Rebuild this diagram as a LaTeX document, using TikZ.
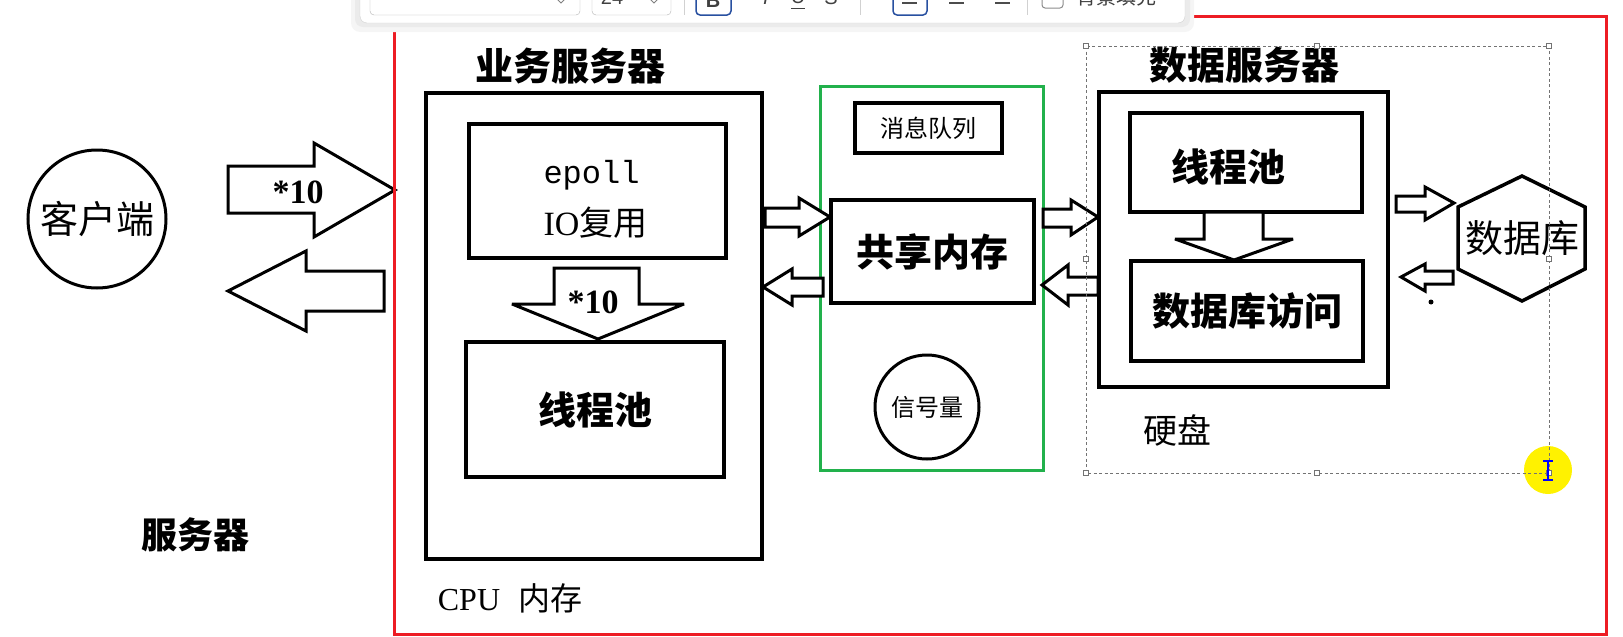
\documentclass[tikz,border=0pt]{standalone}
\usepackage{fontspec}
\setmainfont{Liberation Serif}
\setmonofont{Liberation Mono}
\setsansfont{Liberation Sans}
\newfontfamily\cjk{Noto Sans CJK SC}
\usetikzlibrary{calc}
\definecolor{FrameRed}{RGB}{237,28,36}
\definecolor{IpcGreen}{RGB}{34,177,76}
\definecolor{CursorYellow}{RGB}{255,242,0}
\definecolor{ToolBlue}{RGB}{40,80,160}
\tikzset{
    box/.style={draw,line width=3.5pt,inner sep=0pt,outer sep=0pt},
    ring/.style={draw,circle,line width=3pt,inner sep=0pt,outer sep=0pt},
    fatarrow/.style={draw,line width=3pt,fill=white,line join=miter,miter limit=4},
    titletext/.style={font=\fontsize{38}{44}\cjk\bfseries},
    boldtext/.style={font=\fontsize{38}{44}\cjk\bfseries},
    plaintext/.style={font=\fontsize{34}{40}\cjk},
    smalltext/.style={font=\fontsize{24}{28}\cjk},
    countlabel/.style={font=\fontsize{34}{40}\rmfamily\bfseries},
    toolglyph/.style={font=\fontsize{20}{24}\sffamily,anchor=base,text=black!75}
}
\begin{document}
\begin{tikzpicture}[x=1pt,y=-1pt]
		\useasboundingbox (0,0) rectangle (1623,637);
		\clip (0,0) rectangle (1623,637);
		% client side
		\node[ring,minimum size=138pt,font=\fontsize{38}{44}\cjk] (client) at (97,219) {客户端};
		\node[font=\fontsize{36}{42}\cjk\bfseries] (server) at (195,535) {服务器};
		\draw[fatarrow] (228,166) -- (314,166) -- (314,143) -- (395,190) -- (314,237) -- (314,213) -- (228,213) -- cycle;
		\node[countlabel] (request) at (298,192) {*10};
		\draw[fatarrow] (384,271) -- (306,271) -- (306,251) -- (228,291) -- (306,331) -- (306,311) -- (384,311) -- cycle;
		% outer frame
		\draw[FrameRed,line width=3pt] (394,16) rectangle (1606,634);
		% business server
		\node[titletext] (bizttl) at (570,66) {业务服务器};
		\node[box,minimum width=336pt,minimum height=466pt] (biz) at (594,326) {};
		\node[box,minimum width=257pt,minimum height=134pt] (epoll) at (597.5,191) {};
		\node[anchor=base west,font=\fontsize{32}{38}\ttfamily] (epolltxt) at (540,183) {epoll};
		\node[anchor=base west,font=\fontsize{34}{40}\cjk] (iotxt) at (540,235) {{\rmfamily IO}复用};
		\draw[fatarrow] (554,268) -- (639,268) -- (639,304) -- (684,304) -- (598,339) -- (512,304) -- (554,304) -- cycle;
		\node[countlabel] (fanout) at (593,302) {*10};
		\node[box,minimum width=258pt,minimum height=135pt,boldtext] (bizpool) at (595,409.5) {线程池};
		\node[font=\fontsize{32}{38}\rmfamily] (cpumem) at (510,598) {CPU\hspace{18pt}{\cjk 内存}};
		% ipc column
		\node[draw=IpcGreen,line width=3pt,inner sep=0pt,minimum width=223pt,minimum height=384pt] (ipc) at (931.5,278) {};
		\node[box,line width=3.5pt,minimum width=147pt,minimum height=50pt,smalltext] (mq) at (928.5,128) {消息队列};
		\node[box,minimum width=203pt,minimum height=103pt,boldtext] (shm) at (932.5,251.5) {共享内存};
		\node[ring,minimum size=104pt,smalltext] (sem) at (927,407) {信号量};
		\draw[fatarrow] (765,208) -- (799,208) -- (799,198) -- (830,217) -- (799,236) -- (799,227) -- (765,227) -- cycle;
		\draw[fatarrow] (823,278) -- (792,278) -- (792,269) -- (763,287) -- (792,305) -- (792,296) -- (823,296) -- cycle;
		\draw[fatarrow] (1043,209) -- (1071,209) -- (1071,200) -- (1098,217) -- (1071,235) -- (1071,227) -- (1043,227) -- cycle;
		\draw[fatarrow] (1098,277) -- (1068,277) -- (1068,265) -- (1042,285) -- (1068,305) -- (1068,295) -- (1098,295) -- cycle;
		% data server
		\node[titletext] (dbttl) at (1244,65) {数据服务器};
		\node[box,line width=4pt,minimum width=289pt,minimum height=295pt] (dbsrv) at (1243.5,239.5) {};
		\node[box,minimum width=232pt,minimum height=99pt] (dbpool) at (1246,162.5) {};
		\node[boldtext] (dbpooltxt) at ($(dbpool)+(-18,4)$) {线程池};
		\draw[fatarrow] (1204,212) -- (1263,212) -- (1263,239) -- (1293,239) -- (1234,260) -- (1175,239) -- (1204,239) -- cycle;
		\node[box,minimum width=232pt,minimum height=100pt,boldtext] (dbaccess) at (1247,311) {数据库访问};
		\node[plaintext] (disk) at (1177,430) {硬盘};
		\draw[fatarrow] (1396,196) -- (1425,196) -- (1425,187) -- (1454,203) -- (1425,220) -- (1425,212) -- (1396,212) -- cycle;
		\draw[fatarrow] (1453,271) -- (1425,271) -- (1425,264) -- (1401,277) -- (1425,291) -- (1425,284) -- (1453,284) -- cycle;
		\fill (1431,302) circle (2.5);
		% database
		\node[font=\fontsize{38}{44}\cjk] (db) at (1522,238) {数据库};
		\draw[line width=3.5pt,line join=miter] (1522,176) -- (1585,207) -- (1585,269) -- (1522,301) -- (1458,269) -- (1458,207) -- cycle;
		% selection frame and cursor
		\fill[CursorYellow] (1548,470) circle (24);
		\draw[black!55,line width=0.8pt,dash pattern=on 3pt off 2.5pt] (1086,46) rectangle (1549,473);
		\foreach \hx/\hy in {1086/46,1317/46,1549/46,1086/259,1549/259,1086/473,1317/473,1549/473}
			\draw[black!55,fill=white,line width=0.6pt] (\hx-2.5,\hy-2.5) rectangle ++(5,5);
		\draw[blue,line width=1.2pt] (1548,461) -- (1548,480) (1543,461) -- (1553,461) (1543,480) -- (1553,480);
		% floating toolbar
		\fill[black!4,rounded corners=9pt] (351,-20) rectangle (1194,32);
		\fill[black!8,rounded corners=8pt] (355,-20) rectangle (1190,27);
		\draw[black!18,fill=white,rounded corners=7pt] (360,-20) rectangle (1185,23);
		\draw[black!30,rounded corners=4pt] (370,-20) rectangle (580,15);
		\draw[black!30,rounded corners=4pt] (592,-20) rectangle (671,15);
		\node[toolglyph] (fontsize) at (612,5) {24};
		\draw[black!50,line width=1pt] (650,-1) -- (654,3) -- (658,-1);
		\draw[black!50,line width=1pt] (557,-1) -- (561,3) -- (565,-1);
		\draw[black!18] (684,-20) -- (684,15) (860,-20) -- (860,15) (1027,-20) -- (1027,15);
		\draw[ToolBlue,line width=1.5pt,rounded corners=4pt] (696,-20) rectangle (731,15);
		\node[toolglyph,font=\fontsize{20}{24}\sffamily\bfseries] (boldbtn) at (713,7) {B};
		\node[toolglyph,font=\fontsize{20}{24}\sffamily\itshape] (italicbtn) at (766,5) {I};
		\node[toolglyph] (underbtn) at (798,4) {U};
		\draw[black!75,line width=1pt] (791,8) -- (805,8);
		\node[toolglyph] (strikebtn) at (831,5) {S};
		\draw[ToolBlue,line width=1.5pt,rounded corners=4pt] (893,-20) rectangle (927,15);
		\draw[black!70,line width=1.5pt] (902,3) -- (917,3) (949,3) -- (964,3) (995,3) -- (1010,3);
		\draw[black!45,line width=1pt,rounded corners=3pt] (1042,-10) rectangle (1063,8);
		\node[toolglyph,anchor=base west,font=\fontsize{20}{24}\cjk] (fillopt) at (1073,5) {背景填充};
\end{tikzpicture}
\end{document}
